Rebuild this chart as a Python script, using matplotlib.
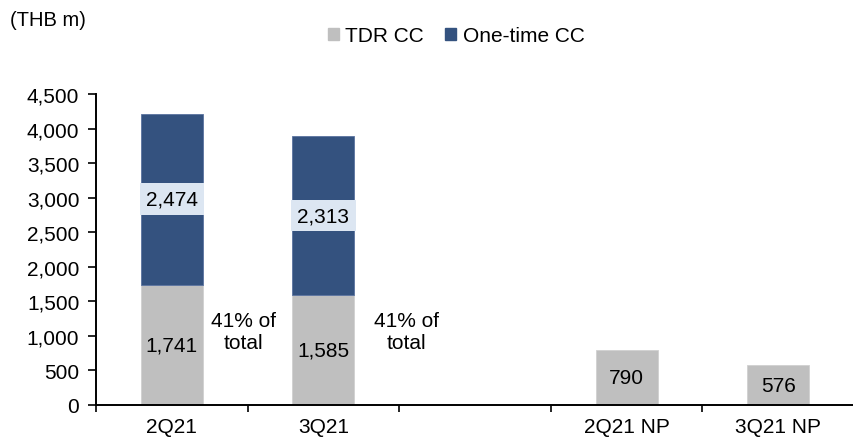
import matplotlib.pyplot as plt

plt.rcParams["font.family"] = ["Liberation Sans", "DejaVu Sans"]
plt.rcParams["font.size"] = 15

categories = ["2Q21", "3Q21", "", "2Q21 NP", "3Q21 NP"]
tdr_cc = [1741, 1585, None, 790, 576]
one_time_cc = [2474, 2313, None, None, None]
share_notes = [(0.47, "41% of\ntotal"), (1.55, "41% of\ntotal")]

gray = "#BFBFBF"
navy = "#34527F"
box = "#DCE6F2"

fig = plt.figure(figsize=(8.54, 4.39), dpi=100)
ax = fig.add_axes([96 / 854, 1 - 406 / 439, 1 - 96 / 854, (406 - 95) / 439])

width = 0.41
for i, (t, o) in enumerate(zip(tdr_cc, one_time_cc)):
    if t is None:
        continue
    ax.bar(i, t, width, color=gray, edgecolor="#D0D0D0", linewidth=0.6)
    ax.text(i, t / 2, f"{t:,}", ha="center", va="center")
    if o is not None:
        ax.bar(i, o, width, bottom=t, color=navy, edgecolor="#5A73A0", linewidth=0.6)
        ax.text(i, t + o / 2, f"{o:,}", ha="center", va="center",
                bbox=dict(facecolor=box, edgecolor="none", boxstyle="square,pad=0.3"))

for x, note in share_notes:
    ax.text(x, 1060, note, ha="center", va="center", linespacing=1.2)

ax.set_xlim(-0.5, 4.455)
ax.set_ylim(0, 4500)
ax.set_yticks(range(0, 4501, 500))
ax.set_yticklabels([f"{v:,}" for v in range(0, 4501, 500)])
ax.set_xticks(range(len(categories)))
ax.set_xticklabels(categories)
ax.set_xticks([i + 0.5 for i in range(-1, 5)], minor=True)
ax.tick_params(axis="x", which="major", length=0, pad=9)
ax.tick_params(axis="x", which="minor", length=5, width=1.2, direction="out")
ax.tick_params(axis="y", length=6, width=1.2, direction="out", pad=6)
for side in ["top", "right"]:
    ax.spines[side].set_visible(False)
for side in ["left", "bottom"]:
    ax.spines[side].set_linewidth(1.4)

fig.text(10 / 854, 1 - 21 / 439, "(THB m)", ha="left", va="center", fontsize=14.5)
handles = [plt.Rectangle((0, 0), 1, 1, color=gray), plt.Rectangle((0, 0), 1, 1, color=navy)]
fig.legend(handles, ["TDR CC", "One-time CC"], loc="center", bbox_to_anchor=(456 / 854, 1 - 37 / 439),
           ncol=2, frameon=False, handlelength=0.55, handleheight=0.55, handletextpad=0.3,
           columnspacing=1.0)

fig.savefig("out.png", dpi=100)
